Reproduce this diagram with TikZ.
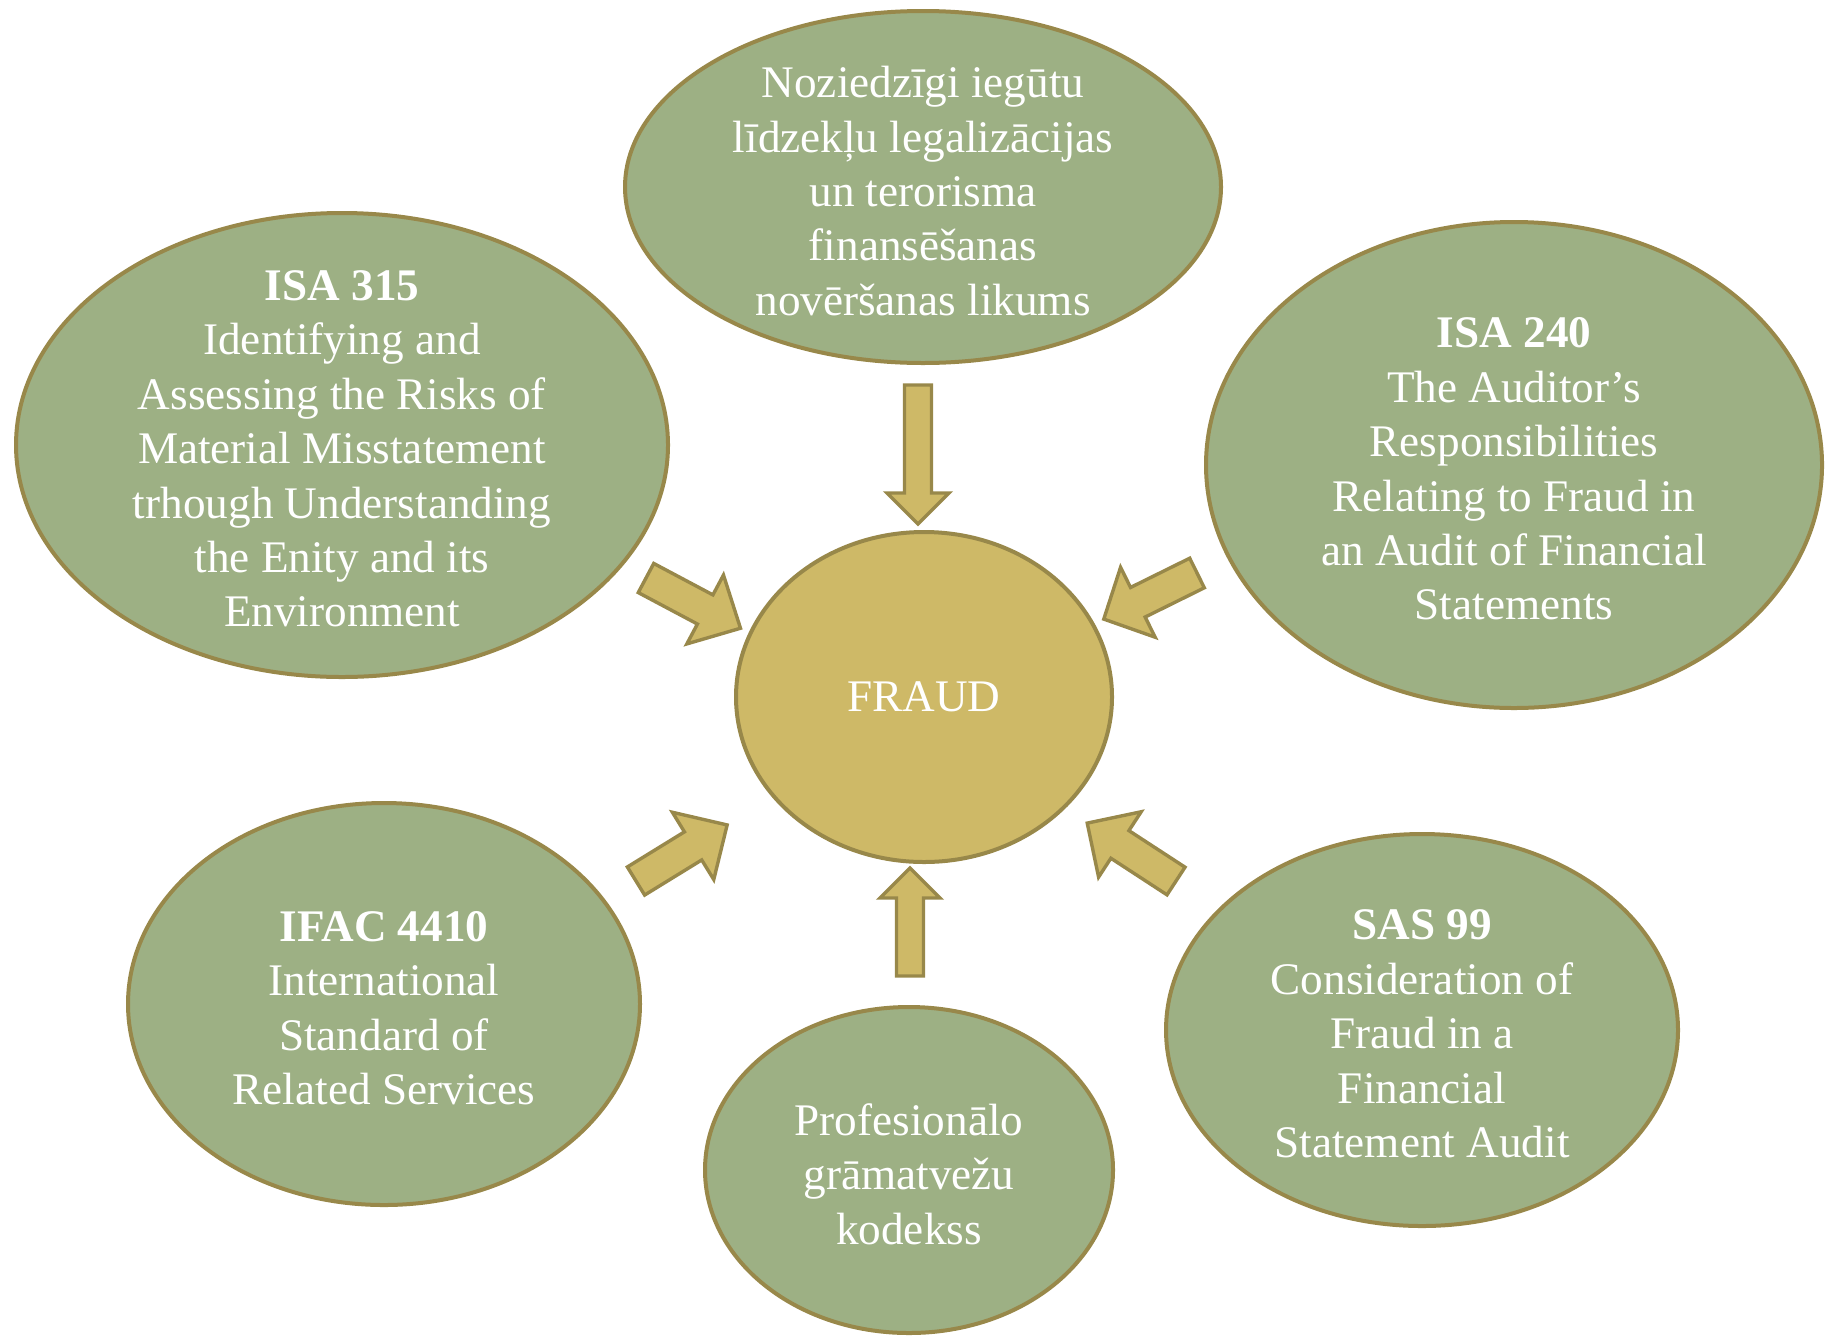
\documentclass[tikz,border=0pt]{standalone}
\usepackage{fontspec}
\setmainfont{Liberation Serif}
\usepackage{tikz}
\usetikzlibrary{shapes.geometric}

\definecolor{leaf}{RGB}{157,176,132}
\definecolor{gold}{RGB}{206,185,103}
\definecolor{rim}{RGB}{152,136,74}

\tikzset{
    oval/.style={ellipse,draw=rim,line width=1pt,fill=leaf,inner sep=0pt},
    ovaltext/.style={text=white,align=center,inner sep=0pt,
        font=\fontsize{11.3}{13.6}\selectfont},
    arrowline/.style={draw=rim,line width=0.85pt,fill=gold,line join=miter},
    pics/blockarr/.style n args={4}{code={
        \path[arrowline] (0,-#2) -- ({#1-#4},-#2) -- ({#1-#4},-#3) -- (#1,0)
            -- ({#1-#4},#3) -- ({#1-#4},#2) -- (0,#2) -- cycle;
    }}
}

\begin{document}
\begin{tikzpicture}[x=0.25pt,y=-0.25pt]
    \useasboundingbox (0,0) rectangle (1837,1338);

    \node[oval,fill=gold,minimum width=94pt,minimum height=82.5pt,
        label={[ovaltext]center:FRAUD}] (fraud) at (924,697) {};

    \node[oval,minimum width=149pt,minimum height=88pt,
        label={[ovaltext,yshift=-1pt]center:{Noziedzīgi iegūtu\\līdzekļu legalizācijas\\un terorisma\\finansēšanas\\novēršanas likums}}] (law) at (923,187) {};
    \node[oval,minimum width=163pt,minimum height=116pt,
        label={[ovaltext,yshift=-1pt]center:{\textbf{ISA 315}\\Identifying and\\Assessing the Risks of\\Material Misstatement\\trhough Understanding\\the Enity and its\\Environment}}] (isa315) at (342,445) {};
    \node[oval,minimum width=154pt,minimum height=121.5pt,
        label={[ovaltext,yshift=-1pt]center:{\textbf{ISA 240}\\The Auditor’s\\Responsibilities\\Relating to Fraud in\\an Audit of Financial\\Statements}}] (isa240) at (1514,465) {};
    \node[oval,minimum width=128pt,minimum height=100.5pt,
        label={[ovaltext,yshift=-1pt]center:{\textbf{IFAC 4410}\\International\\Standard of\\Related Services}}] (ifac) at (384,1004) {};
    \node[oval,minimum width=102pt,minimum height=81.5pt,
        label={[ovaltext,yshift=-1pt]center:{Profesionālo\\grāmatvežu\\kodekss}}] (code) at (909,1170) {};
    \node[oval,minimum width=128pt,minimum height=98pt,
        label={[ovaltext,yshift=-1pt]center:{\textbf{SAS 99}\\Consideration of\\Fraud in a\\Financial\\Statement Audit}}] (sas99) at (1422,1030) {};

    % block arrows towards FRAUD
    \pic[rotate=-90] at (918,385) {blockarr={139}{13.5}{31}{31}};
    \pic[rotate=90] at (910,976) {blockarr={108}{13.5}{30}{30}};
    \pic[rotate=-28] at (646,578) {blockarr={107}{16.5}{39}{40}};
    \pic[rotate=-153.7] at (1197,573) {blockarr={104}{16.5}{39}{38}};
    \pic[rotate=31.6] at (636,881) {blockarr={107}{16.5}{39.5}{40}};
    \pic[rotate=146.9] at (1176,881) {blockarr={106}{16.5}{39}{39}};
\end{tikzpicture}
\end{document}
